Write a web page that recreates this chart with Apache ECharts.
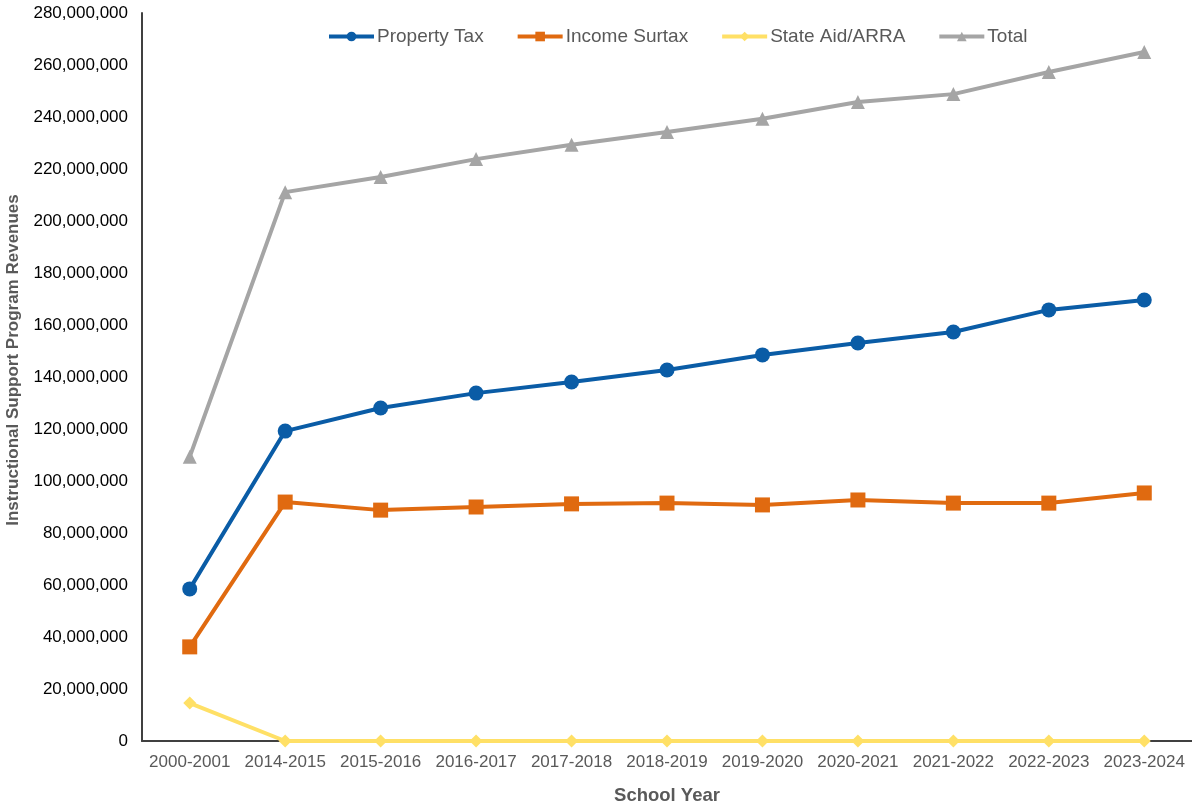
<!DOCTYPE html>
<html><head><meta charset="utf-8">
<script src="https://cdn.jsdelivr.net/npm/echarts@6/dist/echarts.min.js"></script>
<style>html,body{margin:0;padding:0;background:#fff}#c{width:1192px;height:808px}</style>
</head><body><div id="c"></div>
<script>
const categories = ['2000-2001','2014-2015','2015-2016','2016-2017','2017-2018','2018-2019','2019-2020','2020-2021','2021-2022','2022-2023','2023-2024'];
const propertyTax = [58500000,119200000,128100000,133800000,138100000,142700000,148500000,153100000,157300000,165800000,169600000];
const incomeSurtax = [36200000,91900000,88800000,90000000,91200000,91500000,90800000,92700000,91500000,91500000,95400000];
const stateAid = [14600000,0,0,0,0,0,0,0,0,0,0];
const total = [109300000,211100000,216900000,223800000,229300000,234200000,239300000,245800000,248800000,257300000,265000000];
const seriesNames = ['Property Tax','Income Surtax','State Aid/ARRA','Total'];

const chart = echarts.init(document.getElementById('c'), null, {renderer:'canvas'});
const font = 'Arial, "Liberation Sans", sans-serif';
function mk(name, data, color, symbol, size){
  return {name, type:'line', data, symbol, symbolSize:size, showSymbol:true,
    lineStyle:{color, width:4}, itemStyle:{color}, z: 2};
}
chart.setOption({
  animation:false,
  textStyle:{fontFamily:font},
  legend:{top:22, left:322, itemWidth:45, itemHeight:12, itemGap:32,
    lineStyle:{width:4},
    textStyle:{fontSize:19, color:'#595959', fontFamily:font, padding:[0,0,0,-2]},
    data: seriesNames},
  grid:{left:142, right:0, top:13, bottom:67, outerBoundsMode:'none', containLabel:false},
  xAxis:{type:'category', data:categories, boundaryGap:true,
    name:'School Year', nameLocation:'middle', nameGap:45,
    nameTextStyle:{fontSize:18.5, fontWeight:'bold', color:'#595959', fontFamily:font},
    axisLine:{lineStyle:{color:'#404040', width:2}},
    axisTick:{show:false},
    axisLabel:{interval:0, fontSize:17, color:'#595959', margin:13, fontFamily:font}},
  yAxis:{type:'value', min:0, max:280000000, interval:20000000,
    name:'Instructional Support Program Revenues', nameLocation:'middle', nameGap:120,
    nameTextStyle:{fontSize:17, fontWeight:'bold', color:'#595959', fontFamily:font, padding:[0,0,0,34]},
    axisLine:{show:true, lineStyle:{color:'#404040', width:2}},
    axisTick:{show:false},
    splitLine:{show:false},
    axisLabel:{fontSize:17, color:'#000', margin:14, fontFamily:font,
      formatter: v => v.toLocaleString('en-US')}},
  series:[
    mk(seriesNames[0], propertyTax, '#0A5CA6', 'circle', 15),
    mk(seriesNames[1], incomeSurtax, '#E06A10', 'rect', 15),
    mk(seriesNames[2], stateAid, '#FFE066', 'diamond', 13),
    mk(seriesNames[3], total, '#A5A5A5', 'triangle', 14)
  ]
});
</script></body></html>
